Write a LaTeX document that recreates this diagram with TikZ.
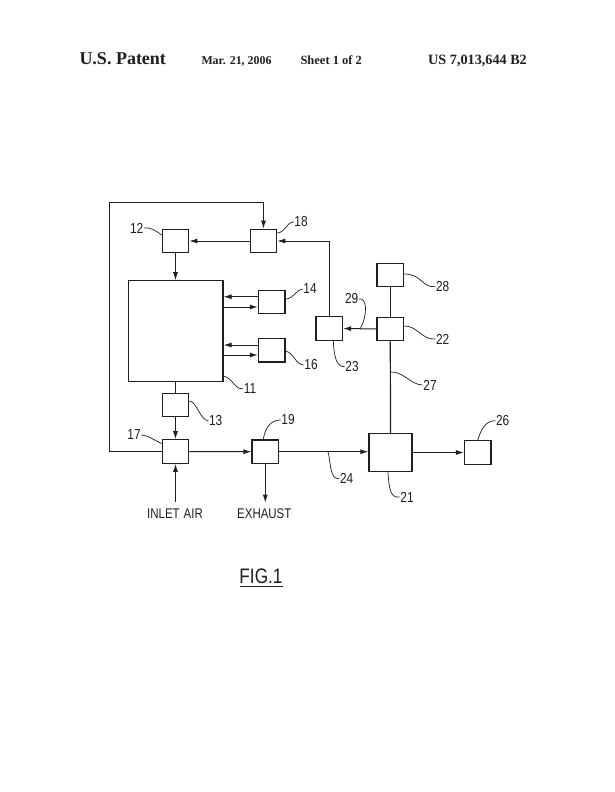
\documentclass[tikz,border=0pt]{standalone}
\usepackage{fontspec}
\usetikzlibrary{arrows.meta}
\setmainfont{Liberation Serif}
\newfontfamily\lab[FakeStretch=0.82]{Liberation Sans}
\definecolor{ink}{gray}{0.12}
\tikzset{
  box/.style={draw=ink,line width=1.2pt,fill=white,inner sep=0pt,minimum width=26.5pt,minimum height=23.5pt},
  wire/.style={draw=ink,line width=1pt},
  arr/.style={wire,-{Latex[length=8pt,width=5pt]}},
  lead/.style={draw=ink,line width=0.7pt},
  numlabel/.style={font=\lab\fontsize{14.5}{15}\selectfont,text=ink,inner sep=0.5pt},
  captxt/.style={font=\lab\fontsize{14}{15}\selectfont,text=ink,inner sep=0pt},
  headtxt/.style={font=\bfseries\fontsize{11.9}{13}\selectfont,text=ink,inner sep=0pt,anchor=base west}
}
\begin{document}
\begin{tikzpicture}[x=1pt,y=-1pt]
\useasboundingbox[fill=white] (0,0) rectangle (614,792);
% header
\node[headtxt,font=\bfseries\fontsize{18}{20}\selectfont] (h1) at (79.3,65) {U.S. Patent};
\node[headtxt] (h2) at (201.3,65) {Mar. 21, 2006};
\node[headtxt,font=\bfseries\fontsize{12.5}{13}\selectfont] (h3) at (300.3,65) {Sheet 1 of 2};
\node[headtxt,font=\bfseries\fontsize{14.2}{15}\selectfont] (h4) at (428,65) {US 7,013,644 B2};
% boxes
\node[box] (b12) at (175.5,241) {};
\node[box] (b18) at (263.5,241) {};
\node[box,minimum width=94.7pt,minimum height=101pt] (b11) at (175.6,331.2) {};
\node[box] (b14) at (271.7,302) {};
\node[box] (b16) at (271.7,350.2) {};
\node[box] (b13) at (175.5,405) {};
\node[box] (b17) at (175.5,451.5) {};
\node[box] (b19) at (265.3,451.7) {};
\node[box] (b28) at (390.3,275) {};
\node[box] (b22) at (390.3,329) {};
\node[box] (b23) at (329.3,328.5) {};
\node[box,minimum width=43pt,minimum height=37.6pt] (b21) at (390.5,452.5) {};
\node[box] (b26) at (477.8,452.5) {};
% free ends
\coordinate (tl) at (109.3,202.7);
\coordinate (inlet) at (175.5,501.7);
\coordinate (exh) at (265.3,502.7);
% connectors
\draw[arr] (b17.west) -- (tl |- b17.west) -- (tl) -- (tl -| b18.north) -- (b18.north);
\draw[arr] (b18.west) -- (b12.east);
\draw[arr,line width=0.8pt] (b23.north) -- (b23.north |- b18.east) -- (b18.east);
\draw[arr,line width=0.7pt] (b12.south) -- (b12.south |- b11.north);
\draw[arr] ([yshift=5.3pt]b14.west) -- ([yshift=5.3pt]b14.west -| b11.east);
\draw[arr] ([yshift=-5pt]b14.west -| b11.east) -- ([yshift=-5pt]b14.west);
\draw[arr] ([yshift=5.2pt]b16.west) -- ([yshift=5.2pt]b16.west -| b11.east);
\draw[arr] ([yshift=-4.8pt]b16.west -| b11.east) -- ([yshift=-4.8pt]b16.west);
\draw[wire,line width=0.7pt] (b11.south -| b13.north) -- (b13.north);
\draw[arr] (b13.south) -- (b17.north);
\draw[arr] (inlet) -- (b17.south);
\draw[arr] (b17.east) -- (b19.west);
\draw[arr] (b19.south) -- (exh);
\draw[arr] (b19.east) -- (b19.east -| b21.west);
\draw[arr] (b21.east) -- (b26.west);
\draw[wire,line width=1.2pt] (b28.south) -- (b22.north);
\draw[wire,line width=1.2pt] (b22.south) -- (b21.north);
\draw[arr] (b22.west) -- (b23.east);
% reference numerals
\node[numlabel] (l12) at (136.7,228) {12};
\node[numlabel] (l18) at (301,221.7) {18};
\node[numlabel] (l14) at (310,289) {14};
\node[numlabel] (l16) at (311,365) {16};
\node[numlabel] (l11) at (250,388.7) {11};
\node[numlabel] (l13) at (215.7,420.7) {13};
\node[numlabel] (l17) at (134,435) {17};
\node[numlabel] (l19) at (288,420) {19};
\node[numlabel] (l24) at (346.7,478.7) {24};
\node[numlabel] (l21) at (407,497) {21};
\node[numlabel] (l26) at (502.7,420.7) {26};
\node[numlabel] (l27) at (430,385) {27};
\node[numlabel] (l22) at (442.7,339) {22};
\node[numlabel] (l28) at (442.7,286.7) {28};
\node[numlabel] (l23) at (352,366.7) {23};
\node[numlabel] (l29) at (351.7,299) {29};
% leaders
\draw[lead] (l12.east) .. controls +(6,-1) and +(-7,-5) .. ([yshift=6pt]b12.west);
\draw[lead] ([yshift=8pt]b18.east) .. controls +(9,-1) and +(-7,0) .. (l18.west);
\draw[lead] ([yshift=3pt]b14.east) .. controls +(8,0) and +(-6,0) .. (l14.west);
\draw[lead] ([yshift=-1pt]b16.east) .. controls +(8,1) and +(-8,0) .. (l16.west);
\draw[lead] ([yshift=6pt]b11.south east) .. controls +(9,1) and +(-9,1) .. (l11.west);
\draw[lead] ([yshift=4pt]b13.east) .. controls +(7,0) and +(-8,0) .. (l13.west);
\draw[lead] (l17.east) .. controls +(6,0) and +(-7,-3) .. ([yshift=8pt]b17.west);
\draw[lead] ([xshift=-2pt]b19.north) .. controls +(2,-14) and +(-8,0) .. (l19.west);
\coordinate (p24) at (328,452);
\draw[lead] (p24) .. controls +(3,10) and +(-10,1) .. (l24.west);
\draw[lead] ([xshift=-2.5pt]b21.south) .. controls +(1,20) and +(-8,1) .. (l21.west);
\draw[lead] (b26.north) .. controls +(4,-14) and +(-8,0) .. (l26.west);
\coordinate (p27) at (390.3,372);
\draw[lead] (p27) .. controls +(13,-1) and +(-12,0) .. (l27.west);
\draw[lead] ([yshift=3pt]b22.east) .. controls +(14,0) and +(-14,1) .. (l22.west);
\draw[lead] ([yshift=1pt]b28.east) .. controls +(18,0) and +(-14,1) .. (l28.west);
\draw[lead] ([xshift=4pt]b23.south) .. controls +(1,20) and +(-7,0) .. (l23.west);
\coordinate (p29) at (360,329);
\draw[lead] (p29) .. controls +(8,-14) and +(8,-2) .. (l29.east);
% captions
\node[captxt] (inl) at (175,514) {INLET\hspace{4pt}AIR};
\node[captxt] (exl) at (264.3,514) {EXHAUST};
\node[font=\lab\fontsize{21}{22}\selectfont,text=ink,inner sep=0pt] (fig) at (261,576.5) {FIG.1};
\draw[draw=ink,line width=1.2pt] (240,586.7) -- (283,586.7);
\end{tikzpicture}
\end{document}
